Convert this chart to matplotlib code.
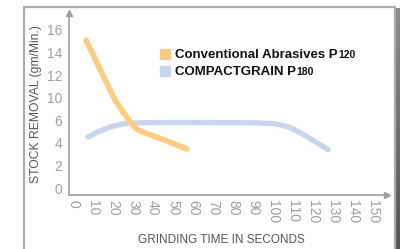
import matplotlib
matplotlib.use("Agg")
import matplotlib.pyplot as plt
from matplotlib.patches import Rectangle
import numpy as np

# data (y in tick-position units; the original axis skips "8")
conv_t = [6.5, 11, 16, 21, 24, 26, 28, 30, 32, 35, 38, 43.5, 50, 57]
conv_v = [13.1, 11.45, 9.6, 7.8, 7.0, 6.5, 6.0, 5.55, 5.2, 4.95, 4.75, 4.4, 3.95, 3.45]
grain_t = [7.5, 12, 18.5, 24, 28.5, 40, 60, 90, 100, 105, 110, 118, 127.5]
grain_v = [4.5, 4.95, 5.4, 5.65, 5.75, 5.8, 5.8, 5.78, 5.7, 5.55, 5.25, 4.45, 3.4]

x_ticks = list(range(0, 151, 10))
y_ticks = [0, 2, 4, 6, 8, 10, 12, 14]
y_ticklabels = ["0", "2", "4", "6", "10", "12", "14", "16"]

names = ["Conventional Abrasives P", "COMPACTGRAIN P"]
grades = ["120", "180"]
colors = ["#FFCB80", "#C6D6EE"]

plt.rcParams["font.family"] = ["Liberation Sans", "DejaVu Sans"]

W, H = 400, 249
fig = plt.figure(figsize=(W / 100, H / 100), dpi=100)

# outer frame + dark shadow strip on the right
fig.patches.append(Rectangle((24 / W, -0.1), (395 - 24) / W, 1.1 - 7 / H,
                             transform=fig.transFigure, fill=False,
                             ec="#ababab", lw=1.6))
sh = fig.add_axes([396 / W, 0, 4 / W, 1 - 8 / H])
sh.imshow(np.linspace(0.55, 0.33, 100).reshape(-1, 1), cmap="gray",
          vmin=0, vmax=1, aspect="auto")
sh.set_axis_off()

ax = fig.add_axes([69 / W, (H - 195) / H, (387 - 69) / W, (195 - 13) / H])
ax.set_xlim(-2, 157)
ax.set_ylim(-0.62, 15.5)

ax.plot(conv_t, conv_v, color=colors[0], lw=4, solid_capstyle="round",
        solid_joinstyle="round", zorder=3)
ax.plot(grain_t, grain_v, color=colors[1], lw=3.8, solid_capstyle="round",
        solid_joinstyle="round", zorder=2)

for s in ["top", "right"]:
    ax.spines[s].set_visible(False)
for s in ["left", "bottom"]:
    ax.spines[s].set_color("#a0a0a0")
    ax.spines[s].set_linewidth(1.2)
ax.plot(1, -0.62, ">", color="#a0a0a0", ms=5, transform=ax.get_yaxis_transform(),
        clip_on=False)
ax.plot(-2, 1, "^", color="#a0a0a0", ms=5, transform=ax.get_xaxis_transform(),
        clip_on=False)

ax.set_xticks(x_ticks)
ax.set_xticklabels([str(t) for t in x_ticks], rotation=-90, va="top", ha="center")
ax.set_yticks(y_ticks)
ax.set_yticklabels(y_ticklabels)
ax.tick_params(length=0, labelsize=10, labelcolor="#a0a0a0")
ax.tick_params(axis="x", pad=3.5)
ax.tick_params(axis="y", pad=5)

fig.text(36 / W, 1 - 104 / H, "STOCK REMOVAL (gm/Min.)", rotation=90,
         ha="center", va="center", fontsize=8.7, color="#555555")
fig.text(221 / W, 1 - 240 / H, "GRINDING TIME IN SECONDS",
         ha="center", va="center", fontsize=8.5, color="#555555")

# legend: square swatches, bold label with smaller grade number
fig.canvas.draw()
r = fig.canvas.get_renderer()
for i, (nm, gr, c) in enumerate(zip(names, grades, colors)):
    yc = 54 + i * 17
    fig.patches.append(Rectangle((160 / W, 1 - (yc + 5) / H), 10 / W, 10 / H,
                                 transform=fig.transFigure, color=c))
    t = fig.text(175 / W, 1 - (yc + 4) / H, nm, ha="left", va="baseline",
                 fontsize=9.5, fontweight="bold", color="#111111")
    bb = t.get_window_extent(r)
    fig.text(bb.x1 / W + 0.002, 1 - (yc + 4) / H, gr, ha="left", va="baseline",
             fontsize=7.5, fontweight="bold", color="#111111")

fig.savefig("out.png", dpi=100)
